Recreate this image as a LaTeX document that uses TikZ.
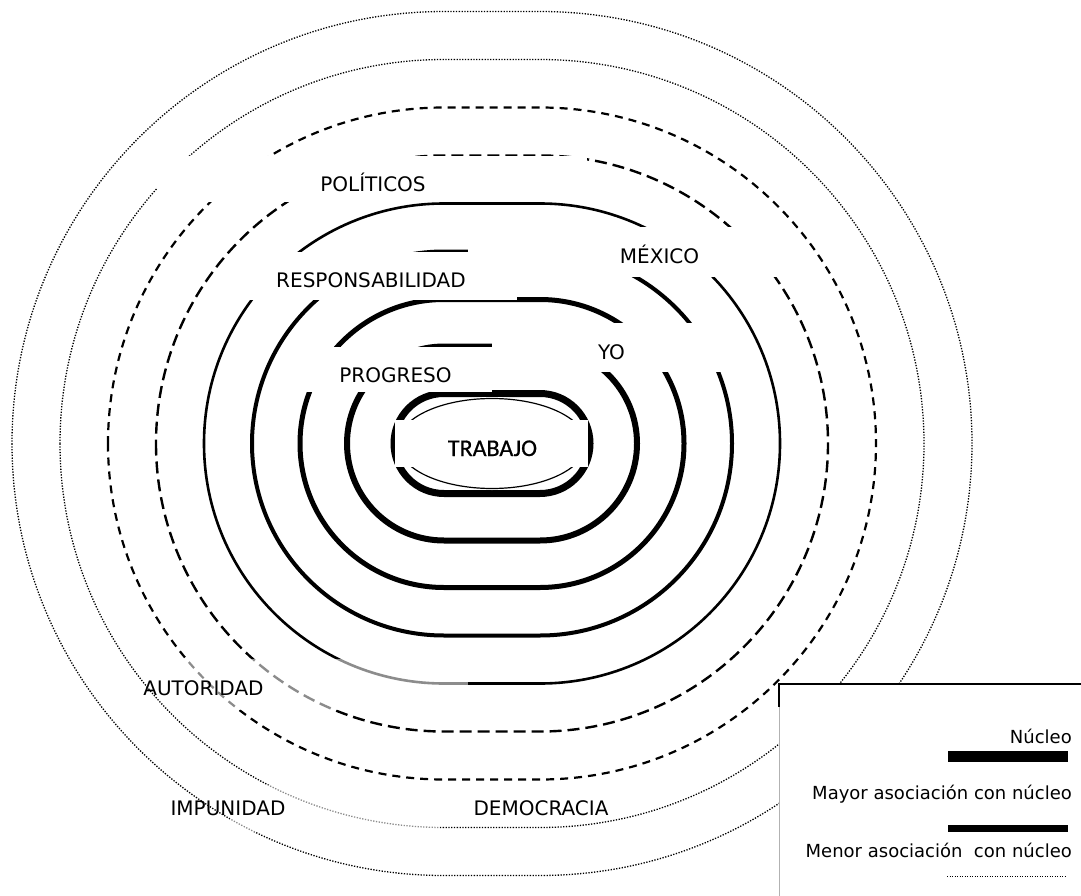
\documentclass[tikz,border=0pt]{standalone}
\usepackage{fontspec}
\setmainfont{DejaVu Sans}
\newfontfamily\corefont[FakeBold=0.6]{Carlito}
\begin{document}
\begin{tikzpicture}[x=1pt,y=-1pt,
  core/.style={line width=7pt},
  ringa/.style={line width=6pt},
  ringb/.style={line width=5pt},
  ringc/.style={line width=4pt},
  ringd/.style={line width=2.6pt},
  dashlong/.style={line width=2.4pt,dash pattern=on 12pt off 6pt},
  dashshort/.style={line width=2.2pt,dash pattern=on 8pt off 6pt},
  dotring/.style={line width=1.3pt,dash pattern=on 1.3pt off 1.5pt},
  mask/.style={fill=white,draw=none},
  halfmask/.style={fill=white,fill opacity=0.55,draw=none},
  lbl/.style={inner sep=0pt,anchor=base,font=\fontsize{20}{24}\selectfont},
  leg/.style={inner sep=0pt,anchor=base east,font=\fontsize{18}{22}\selectfont}]
\useasboundingbox (0,0) rectangle (1081,896);
\fill[white] (0,0) rectangle (1081,896);

% concentric stadium rings around the core (flat part from x=444 to x=540)
\newcommand\stadium[2]{\draw[#1,rounded corners=#2pt] ({444-#2},{443.5-#2}) rectangle ({540+#2},{443.5+#2});}
\stadium{dotring}{432}
\stadium{dotring}{384}
\stadium{dashshort}{336}
\stadium{dashlong}{288}
\stadium{ringd}{240}
\stadium{ringc}{192}
\stadium{ringb}{144}
\stadium{ringa}{97}
\stadium{core}{50}
\draw[white,line width=3pt] (492,443.5) ellipse [x radius=94, y radius=45];
\draw[black,line width=1.2pt] (492,443.5) ellipse [x radius=94, y radius=45];

% white label boxes cutting the rings
\fill[mask] (157,156) rectangle (587,202);
\fill[mask] (468,227) rectangle (785,277);
\fill[mask] (245,252) rectangle (517,300);
\fill[mask] (492,323) rectangle (738,372);
\fill[mask] (285,347) rectangle (492,392);
\fill[mask] (395,420) rectangle (588,467);
% translucent boxes of the outer labels
\fill[halfmask] (185,659) rectangle (468,710);
\fill[halfmask] (230,785) rectangle (440,832);

% labels
\node[lbl] (politicos) at (373,192) {POLÍTICOS};
\node[lbl] (mexico) at (659.5,263) {MÉXICO};
\node[lbl] (responsabilidad) at (371,287) {RESPONSABILIDAD};
\node[lbl] (yo) at (611.5,359) {YO};
\node[lbl] (progreso) at (395.5,382) {PROGRESO};
\node[inner sep=0pt,anchor=base,font=\corefont\fontsize{24}{28}\selectfont] (trabajo) at (492.5,456) {TRABAJO};
\node[lbl] (autoridad) at (203.5,695) {AUTORIDAD};
\node[lbl] (impunidad) at (228,815) {IMPUNIDAD};
\node[lbl] (democracia) at (541,815) {DEMOCRACIA};

% legend
\fill[white] (779,684) rectangle (1081,896);
\draw[gray!60,line width=0.8pt] (779,707) -- (779,896);
\draw[black,line width=2pt] (1081,684) -- (779,684) -- (779,707);
\node[leg] (lnucleo) at (1072,743) {Núcleo};
\fill[black] (948,751) rectangle (1068,762);
\node[leg] (lmayor) at (1072,799) {Mayor asociación con núcleo};
\fill[black] (948,825) rectangle (1068,832);
\node[leg] (lmenor) at (1072,857) {Menor asociación~ con núcleo};
\draw[line width=1pt,dash pattern=on 1pt off 1.5pt] (947,876) -- (1065,876);
\end{tikzpicture}
\end{document}
